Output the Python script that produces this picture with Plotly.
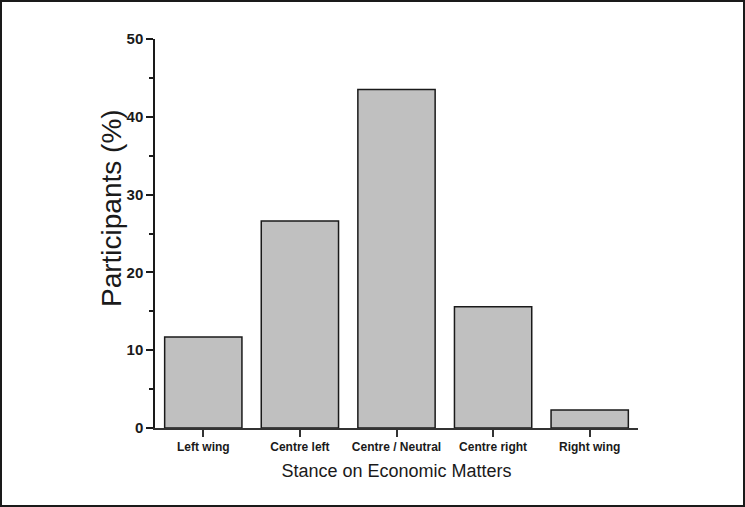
import plotly.graph_objects as go

categories = ["Left wing", "Centre left", "Centre / Neutral", "Centre right", "Right wing"]
values = [11.7, 26.6, 43.5, 15.6, 2.3]
y_ticks = [0, 10, 20, 30, 40, 50]

W, H = 745, 507
L, R, T, B = 155, 107, 39, 79
pw, ph = W - L - R, H - T - B

fig = go.Figure(go.Bar(
    x=categories, y=values, width=0.8,
    marker=dict(color="#c0c0c0", line=dict(color="#1a1a1a", width=1.5)),
))

font = "Liberation Sans, Arial, sans-serif"
fig.update_layout(
    width=W, height=H,
    margin=dict(l=L, r=R, t=T, b=B),
    plot_bgcolor="white", paper_bgcolor="white",
    showlegend=False,
    font=dict(family=font, color="#1a1a1a"),
    xaxis=dict(
        range=[-0.5, 4.5], showline=True, linecolor="#333", linewidth=1.5,
        ticks="outside", ticklen=7, tickwidth=1.5, tickcolor="#333",
        tickfont=dict(size=12, family=font, weight="bold"),
        title=dict(text="Stance on Economic Matters", font=dict(size=18), standoff=11),
        showgrid=False, zeroline=False,
    ),
    yaxis=dict(
        range=[0, 50], tickvals=y_ticks, showline=True, linecolor="#1a1a1a", linewidth=1.5,
        ticks="outside", ticklen=7, tickwidth=1.5, tickcolor="#1a1a1a",
        minor=dict(dtick=5, ticks="outside", ticklen=4, tickwidth=1.5, tickcolor="#1a1a1a"),
        tickfont=dict(size=15, family=font, weight="bold"),
        showgrid=False, zeroline=False,
    ),
    annotations=[dict(
        text="Participants (%)", xref="paper", yref="paper",
        x=(112 - L) / pw, y=(428 - 208) / ph, xanchor="center", yanchor="middle",
        textangle=-90, showarrow=False, font=dict(size=28, family=font, color="#1a1a1a"),
    )],
    shapes=[dict(
        type="rect", xref="paper", yref="paper",
        x0=-(L - 1) / pw, x1=1 + (R - 1) / pw,
        y0=-(B - 1) / ph, y1=1 + (T - 1) / ph,
        line=dict(color="#1a1a1a", width=2), layer="below",
    )],
)

fig.write_html("out.html", config={"displayModeBar": False},
               post_script="document.body.style.margin='0px';document.body.style.overflow='hidden';")
